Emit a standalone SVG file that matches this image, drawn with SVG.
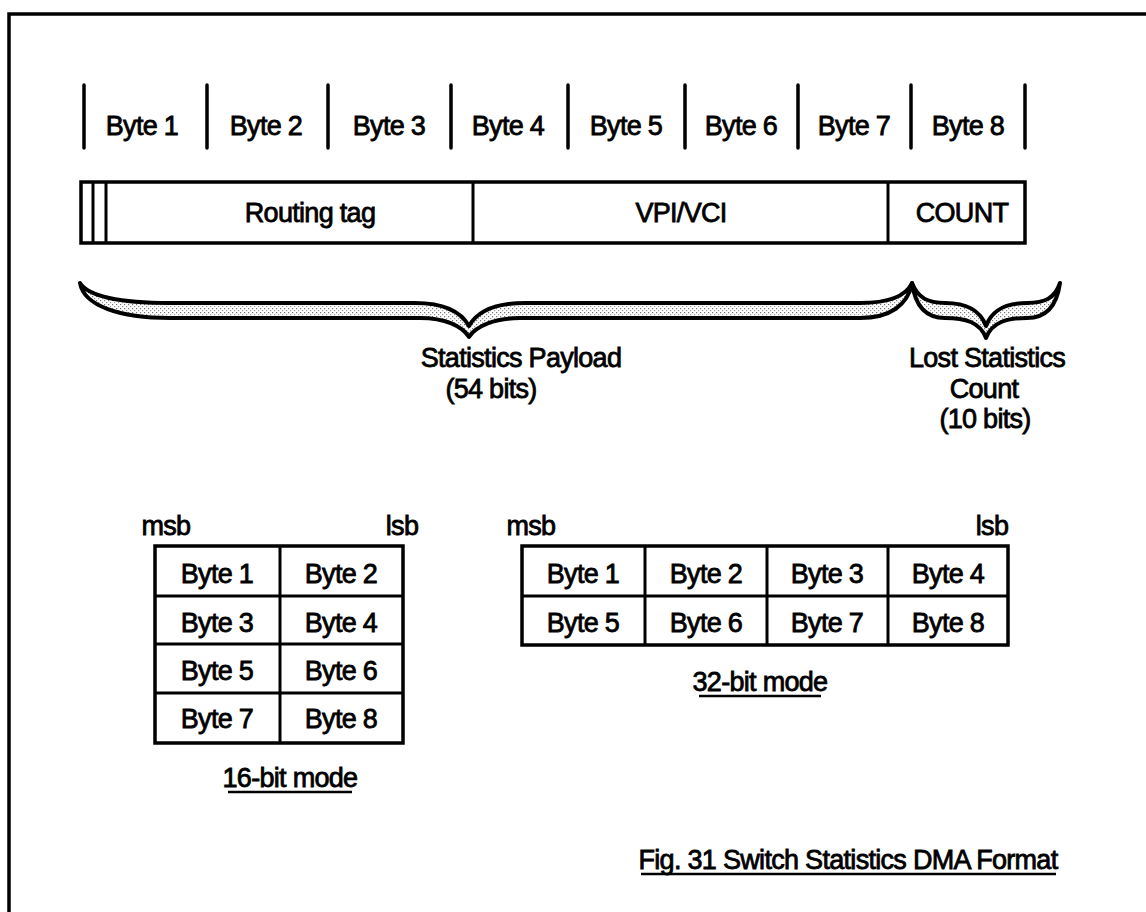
<svg xmlns="http://www.w3.org/2000/svg" width="1146" height="912" viewBox="0 0 1146 912">
<defs>
<pattern id="stip" width="4" height="4" patternUnits="userSpaceOnUse">
<rect width="4" height="4" fill="#ffffff"/>
<rect x="0" y="0" width="1.2" height="1.2" fill="#777"/>
<rect x="2" y="2" width="1.2" height="1.2" fill="#999"/>
</pattern>
</defs>
<style>
text{font-family:"Liberation Sans",Arial,sans-serif;font-size:27px;fill:#000;stroke:#000;stroke-width:0.8;text-anchor:middle;letter-spacing:-0.7px}
.ln{stroke:#000;stroke-width:3.5;fill:none;stroke-linecap:round}
.box{stroke:#000;stroke-width:3.5;fill:#fff}
.cell{stroke:#000;stroke-width:3;fill:none}
.brace{stroke:#000;stroke-width:4;fill:url(#stip);stroke-linejoin:round}
.ul{stroke:#000;stroke-width:2.5}
</style>
<rect width="1146" height="912" fill="#fff"/>
<path id="frame" class="ln" d="M9 912 L9 14 L1146 14" stroke-width="4.5"/>

<g id="byte-ruler">
<path class="ln" d="M84 85V148 M207 85V148 M328 85V148 M451 85V148 M568 85V148 M685 85V148 M798 85V148 M911 85V148 M1025 85V148"/>
<text x="142" y="135">Byte 1</text>
<text x="266" y="135">Byte 2</text>
<text x="389" y="135">Byte 3</text>
<text x="508" y="135">Byte 4</text>
<text x="626" y="135">Byte 5</text>
<text x="741" y="135">Byte 6</text>
<text x="854" y="135">Byte 7</text>
<text x="968" y="135">Byte 8</text>
</g>

<g id="frame-bar">
<rect class="box" x="81" y="182" width="944" height="61"/>
<path class="cell" d="M93 182V243 M106 182V243"/>
</g>
<g id="routing-tag">
<path class="cell" d="M473 182V243"/>
<text x="310" y="222">Routing tag</text>
</g>
<g id="vpi-vci">
<text x="681" y="222">VPI/VCI</text>
</g>
<g id="count">
<path class="cell" d="M888 182V243"/>
<text x="962" y="222">COUNT</text>
</g>

<g id="payload-brace">
<path class="brace" d="M80 283 C84 306 120 318 170 318 L420 318 C445 318 462 326 469 337 C476 326 495 318 520 318 L860 318 C890 318 908 305 912 283 C905 298 885 303 860 303 L525 303 C498 303 478 310 469 326 C460 310 440 303 415 303 L170 303 C120 303 88 296 80 283 Z"/>
<text x="521" y="367">Statistics Payload</text>
<text x="491" y="398">(54 bits)</text>
</g>

<g id="count-brace">
<path class="brace" d="M912 283 C915 305 925 318 945 318 C965 318 980 322 986 338 C992 322 1007 318 1027 318 C1047 318 1057 305 1060 283 C1055 298 1045 303 1027 303 C1005 303 992 310 986 326 C980 310 967 303 945 303 C928 303 918 298 912 283 Z"/>
<text x="987" y="367">Lost Statistics</text>
<text x="984" y="398">Count</text>
<text x="985" y="428">(10 bits)</text>
</g>

<g id="mode16">
<text x="166" y="535">msb</text>
<text x="402" y="535">lsb</text>
<rect class="box" x="155" y="546" width="248" height="197"/>
<path class="cell" d="M280 546V743 M155 596H403 M155 644H403 M155 693H403"/>
<text x="217" y="583">Byte 1</text>
<text x="341" y="583">Byte 2</text>
<text x="217" y="632">Byte 3</text>
<text x="341" y="632">Byte 4</text>
<text x="217" y="680">Byte 5</text>
<text x="341" y="680">Byte 6</text>
<text x="217" y="728">Byte 7</text>
<text x="341" y="728">Byte 8</text>
<text x="290" y="787">16-bit mode</text>
<path class="ul" d="M228 792H352"/>
</g>

<g id="mode32">
<text x="531" y="535">msb</text>
<text x="992" y="535">lsb</text>
<rect class="box" x="522" y="546" width="486" height="99"/>
<path class="cell" d="M645 546V645 M767 546V645 M888 546V645 M522 596H1008"/>
<text x="583" y="583">Byte 1</text>
<text x="706" y="583">Byte 2</text>
<text x="827" y="583">Byte 3</text>
<text x="948" y="583">Byte 4</text>
<text x="583" y="632">Byte 5</text>
<text x="706" y="632">Byte 6</text>
<text x="827" y="632">Byte 7</text>
<text x="948" y="632">Byte 8</text>
<text x="760" y="691">32-bit mode</text>
<path class="ul" d="M699 696H821"/>
</g>

<g id="caption">
<text x="848" y="869">Fig. 31 Switch Statistics DMA Format</text>
<path class="ul" d="M641 874H1056"/>
</g>
</svg>
